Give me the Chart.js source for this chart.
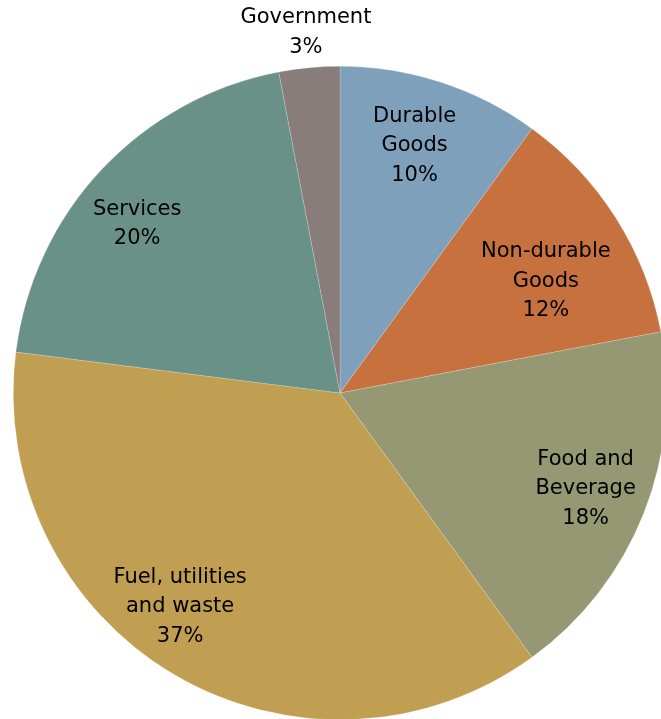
<!DOCTYPE html>
<html>
<head>
<meta charset="utf-8">
<title>Spending by category</title>
<script src="https://cdn.jsdelivr.net/npm/chart.js@4"></script>
<style>
  html, body { margin: 0; padding: 0; background: #ffffff; overflow: hidden; }
  #wrap { position: absolute; left: 0; top: 0; width: 680px; height: 740px; }
</style>
</head>
<body>
<div id="wrap"><canvas id="pie" width="680" height="740"></canvas></div>
<script>
// Categories and their shares (percent), clockwise from 12 o'clock
const categories = [
  ['Durable', 'Goods'],
  ['Non-durable', 'Goods'],
  ['Food and', 'Beverage'],
  ['Fuel, utilities', 'and waste'],
  ['Services'],
  ['Government']
];
const shares = [10, 12, 18, 37, 20, 3];
const sliceColors = ['#7fa0bb', '#c6713e', '#959873', '#c09e52', '#6a9188', '#887d7a'];

// Label anchor per slice: [fraction of radius, angular nudge in degrees]
const labelAnchors = [
  [0.79, -1.2],
  [0.717, 3.9],
  [0.807, -0.3],
  [0.817, 6.2],
  [0.808, -3.4],
  [1.109, 0]
];

const sliceLabels = {
  id: 'sliceLabels',
  afterDatasetsDraw(chart) {
    const ctx = chart.ctx;
    const meta = chart.getDatasetMeta(0);
    ctx.save();
    ctx.font = '21px "DejaVu Sans"';
    ctx.fillStyle = '#000000';
    ctx.textAlign = 'center';
    ctx.textBaseline = 'middle';
    const lineH = 29.5;
    meta.data.forEach((arc, i) => {
      const p = arc.getProps(['x', 'y', 'startAngle', 'endAngle', 'outerRadius'], true);
      const [frac, nudge] = labelAnchors[i];
      const theta = (p.startAngle + p.endAngle) / 2 + nudge * Math.PI / 180;
      const cx = p.x + Math.cos(theta) * p.outerRadius * frac;
      const cy = p.y + Math.sin(theta) * p.outerRadius * frac;
      const lines = categories[i].concat([shares[i] + '%']);
      const top = cy - (lines.length - 1) * lineH / 2;
      lines.forEach((t, k) => ctx.fillText(t, cx, top + k * lineH));
    });
    ctx.restore();
  }
};

new Chart(document.getElementById('pie'), {
  type: 'pie',
  data: {
    labels: categories.map(c => c.join(' ')),
    datasets: [{
      data: shares,
      backgroundColor: sliceColors,
      borderColor: 'rgba(255,255,255,0.3)',
      borderWidth: 0.6
    }]
  },
  options: {
    responsive: false,
    animation: false,
    layout: { padding: { left: 13, top: 66, right: 13, bottom: 20 } },
    plugins: {
      legend: { display: false },
      tooltip: { enabled: false }
    }
  },
  plugins: [sliceLabels]
});
</script>
</body>
</html>
